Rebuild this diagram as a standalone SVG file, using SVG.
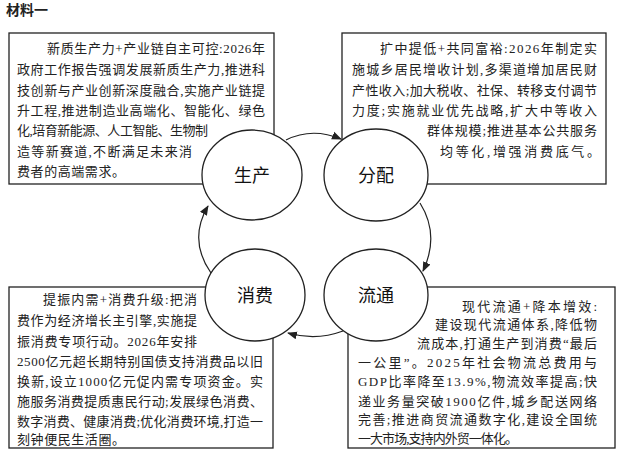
<svg xmlns="http://www.w3.org/2000/svg" width="620" height="458" viewBox="0 0 620 458">
<style>
.box{fill:#fff;stroke:#222;stroke-width:1.3}
.t{font-family:"Liberation Serif","Noto Sans CJK SC",serif;font-size:13px;fill:#222}
.c{fill:#fff;stroke:#222;stroke-width:1.3}
.l{font-family:"Noto Sans CJK SC",sans-serif;font-size:18px;fill:#111;text-anchor:middle}
.a{fill:none;stroke:#222;stroke-width:1.2;marker-end:url(#ah)}
</style>
<defs><marker id="ah" viewBox="0 0 10 10" refX="9" refY="5" markerWidth="10" markerHeight="10" orient="auto" markerUnits="userSpaceOnUse"><path d="M0,1 L10,5 L0,9 z" fill="#222"/></marker></defs>
<rect width="620" height="458" fill="#fff"/>
<text x="6" y="15" style="font-family:'Noto Sans CJK SC',sans-serif;font-size:14px;font-weight:bold;fill:#222">材料一</text>
<g id="box-prod">
<rect class="box" x="9" y="33" width="265" height="151"/>
<text class="t" x="47" y="53" textLength="218" lengthAdjust="spacing">新质生产力+产业链自主可控:2026年</text>
<text class="t" x="17" y="74" textLength="248" lengthAdjust="spacing">政府工作报告强调发展新质生产力,推进科</text>
<text class="t" x="17" y="95" textLength="248" lengthAdjust="spacing">技创新与产业创新深度融合,实施产业链提</text>
<text class="t" x="17" y="115" textLength="248" lengthAdjust="spacing">升工程,推进制造业高端化、智能化、绿色</text>
<text class="t" x="17" y="135" textLength="191" lengthAdjust="spacing">化,培育新能源、人工智能、生物制</text>
<text class="t" x="17" y="156" textLength="175" lengthAdjust="spacing">造等新赛道,不断满足未来消</text>
<text class="t" x="17" y="176" textLength="108" lengthAdjust="spacing">费者的高端需求。</text>
</g>
<g id="box-dist">
<rect class="box" x="342" y="33" width="264" height="151"/>
<text class="t" x="380" y="53" textLength="217" lengthAdjust="spacing">扩中提低+共同富裕:2026年制定实</text>
<text class="t" x="352" y="74" textLength="245" lengthAdjust="spacing">施城乡居民增收计划,多渠道增加居民财</text>
<text class="t" x="352" y="95" textLength="245" lengthAdjust="spacing">产性收入;加大税收、社保、转移支付调节</text>
<text class="t" x="352" y="115" textLength="245" lengthAdjust="spacing">力度;实施就业优先战略,扩大中等收入</text>
<text class="t" x="427" y="135" textLength="170" lengthAdjust="spacing">群体规模;推进基本公共服务</text>
<text class="t" x="440" y="156" textLength="160" lengthAdjust="spacing">均等化,增强消费底气。</text>
</g>
<g id="box-cons">
<rect class="box" x="9" y="287" width="264" height="161"/>
<text class="t" x="43" y="304" textLength="154" lengthAdjust="spacing">提振内需+消费升级:把消</text>
<text class="t" x="17" y="325" textLength="180" lengthAdjust="spacing">费作为经济增长主引擎,实施提</text>
<text class="t" x="17" y="346" textLength="180" lengthAdjust="spacing">振消费专项行动。2026年安排</text>
<text class="t" x="17" y="366" textLength="246" lengthAdjust="spacing">2500亿元超长期特别国债支持消费品以旧</text>
<text class="t" x="17" y="386" textLength="246" lengthAdjust="spacing">换新,设立1000亿元促内需专项资金。实</text>
<text class="t" x="17" y="406" textLength="246" lengthAdjust="spacing">施服务消费提质惠民行动;发展绿色消费、</text>
<text class="t" x="17" y="426" textLength="246" lengthAdjust="spacing">数字消费、健康消费;优化消费环境,打造一</text>
<text class="t" x="17" y="444" textLength="108" lengthAdjust="spacing">刻钟便民生活圈。</text>
</g>
<g id="box-circ">
<rect class="box" x="348" y="287" width="267" height="161"/>
<text class="t" x="462" y="311" textLength="135" lengthAdjust="spacing">现代流通+降本增效:</text>
<text class="t" x="435" y="329" textLength="162" lengthAdjust="spacing">建设现代流通体系,降低物</text>
<text class="t" x="417" y="348" textLength="180" lengthAdjust="spacing">流成本,打通生产到消费“最后</text>
<text class="t" x="358" y="367" textLength="239" lengthAdjust="spacing">一公里”。2025年社会物流总费用与</text>
<text class="t" x="358" y="386" textLength="239" lengthAdjust="spacing">GDP比率降至13.9%,物流效率提高;快</text>
<text class="t" x="358" y="406" textLength="239" lengthAdjust="spacing">递业务量突破1900亿件,城乡配送网络</text>
<text class="t" x="358" y="424" textLength="239" lengthAdjust="spacing">完善;推进商贸流通数字化,建设全国统</text>
<text class="t" x="358" y="443" textLength="160" lengthAdjust="spacing">一大市场,支持内外贸一体化。</text>
</g>
<g id="connectors">
<path class="a" d="M286,140 Q312,127 341,139"/>
<path class="a" d="M420,203 Q440,235 423,271"/>
<path class="a" d="M343,331 Q316,341 288,333"/>
<path class="a" d="M211,273 Q188,240 208,206"/>
</g>
<g id="n-prod"><ellipse class="c" cx="252" cy="175" rx="50" ry="45"/><text class="l" x="252" y="182">生产</text></g>
<g id="n-dist"><ellipse class="c" cx="376" cy="175" rx="52" ry="46"/><text class="l" x="376" y="182">分配</text></g>
<g id="n-cons"><ellipse class="c" cx="255" cy="295" rx="50" ry="46"/><text class="l" x="255" y="302">消费</text></g>
<g id="n-circ"><ellipse class="c" cx="376" cy="295" rx="52" ry="46"/><text class="l" x="376" y="302">流通</text></g>
</svg>
